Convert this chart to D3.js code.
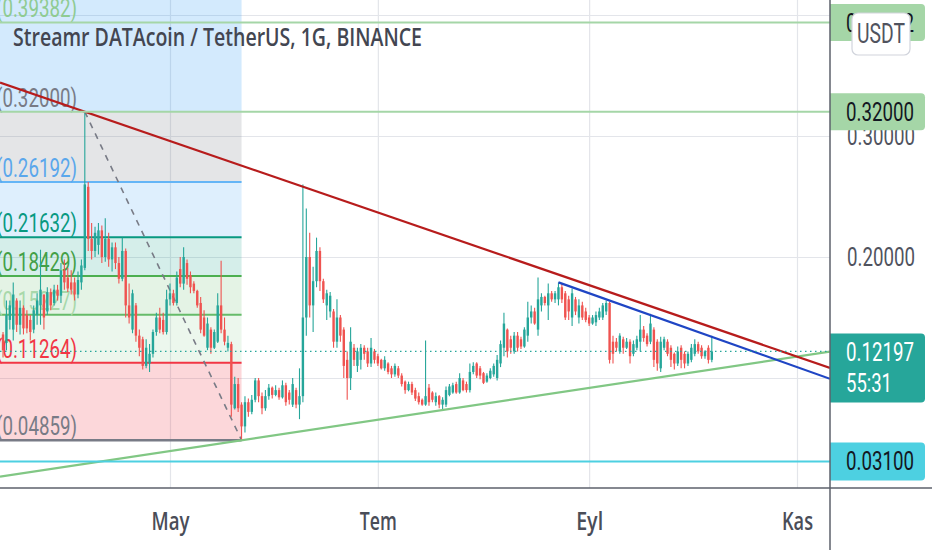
<!DOCTYPE html>
<html>
<head>
<meta charset="utf-8">
<script src="https://cdn.jsdelivr.net/npm/d3@7"></script>
<style>
  body { margin: 0; background: #fff; overflow: hidden; }
  svg { display: block; }
</style>
</head>
<body>
<div id="chart"></div>
<script>
// daily candles, first one on 2021-03-13 : [open, high, low, close]
const firstDay = '2021-03-13';
const ohlc = [
  [.136,.138,.117,.123],[.129,.164,.123,.152],[.148,.164,.140,.160],[.140,.179,.131,.169],
  [.164,.166,.138,.144],[.144,.164,.136,.158],[.158,.160,.136,.141],[.152,.156,.137,.141],
  [.148,.152,.131,.138],[.140,.160,.137,.156],[.152,.170,.144,.164],[.160,.206,.144,.173],
  [.169,.169,.140,.150],[.155,.175,.152,.171],[.171,.174,.156,.160],[.162,.177,.160,.173],
  [.173,.177,.164,.168],[.168,.195,.162,.189],[.189,.198,.173,.179],[.183,.191,.171,.174],
  [.179,.189,.169,.173],[.179,.183,.164,.169],[.169,.188,.166,.181],[.179,.198,.173,.193],
  [.191,.320,.189,.260],[.258,.262,.205,.215],[.215,.228,.198,.205],[.205,.225,.200,.220],
  [.210,.228,.202,.222],[.222,.226,.195,.200],[.200,.232,.196,.215],[.215,.220,.192,.198],
  [.198,.212,.188,.208],[.208,.212,.190,.195],[.195,.200,.178,.182],[.182,.216,.180,.205],
  [.205,.207,.150,.160],[.160,.178,.145,.150],[.140,.173,.137,.170],[.160,.162,.130,.135],
  [.135,.140,.118,.125],[.132,.134,.107,.110],[.110,.132,.108,.125],[.112,.128,.105,.120],
  [.120,.140,.117,.138],[.138,.154,.135,.150],[.150,.158,.137,.140],[.148,.154,.136,.138],
  [.138,.173,.136,.165],[.165,.178,.160,.170],[.170,.173,.160,.162],[.162,.188,.160,.183],
  [.190,.200,.175,.178],[.178,.208,.173,.200],[.195,.198,.177,.182],[.185,.188,.170,.175],
  [.178,.180,.170,.172],[.172,.173,.158,.160],[.162,.167,.137,.140],[.150,.156,.134,.135],
  [.125,.150,.123,.145],[.140,.142,.120,.125],[.125,.140,.124,.138],[.130,.170,.129,.160],
  [.160,.197,.137,.140],[.140,.150,.127,.130],[.125,.135,.122,.129],[.128,.130,.068,.078],
  [.075,.101,.074,.095],[.095,.100,.072,.075],[.078,.080,.0486,.060],[.060,.085,.055,.080],
  [.080,.083,.068,.072],[.072,.086,.070,.082],[.082,.100,.080,.098],[.098,.100,.080,.085],
  [.085,.088,.070,.075],[.075,.090,.073,.085],[.085,.095,.082,.092],[.092,.093,.083,.086],
  [.086,.094,.085,.090],[.090,.092,.082,.084],[.084,.098,.083,.094],[.094,.096,.077,.080],
  [.088,.090,.078,.082],[.078,.100,.076,.095],[.090,.092,.075,.078],[.078,.108,.066,.085],
  [.085,.260,.080,.150],[.150,.240,.135,.200],[.200,.220,.150,.160],[.160,.192,.138,.180],
  [.180,.216,.175,.205],[.205,.208,.172,.180],[.180,.182,.162,.165],[.160,.173,.148,.170],
  [.155,.171,.150,.168],[.155,.157,.125,.130],[.130,.165,.125,.150],[.150,.152,.130,.135],
  [.140,.142,.100,.110],[.115,.122,.082,.100],[.100,.142,.090,.130],[.125,.128,.110,.115],
  [.110,.125,.105,.122],[.115,.128,.107,.125],[.125,.127,.115,.120],[.122,.125,.109,.112],
  [.112,.133,.109,.125],[.122,.124,.112,.115],[.118,.120,.110,.112],[.115,.116,.107,.108],
  [.108,.118,.106,.115],[.112,.113,.103,.105],[.108,.110,.100,.103],[.103,.112,.101,.110],
  [.108,.110,.100,.102],[.102,.104,.093,.095],[.097,.098,.087,.090],[.090,.097,.089,.095],
  [.095,.097,.086,.088],[.090,.092,.081,.083],[.085,.088,.078,.080],[.082,.083,.077,.078],
  [.078,.131,.077,.085],[.092,.095,.077,.080],[.088,.089,.080,.082],[.080,.088,.077,.085],
  [.085,.086,.075,.078],[.078,.084,.074,.082],[.078,.093,.076,.090],[.086,.095,.085,.093],
  [.088,.096,.087,.094],[.095,.097,.087,.088],[.088,.104,.087,.100],[.098,.100,.089,.090],
  [.095,.097,.088,.090],[.090,.112,.088,.105],[.105,.113,.103,.110],[.112,.113,.100,.102],
  [.108,.110,.099,.102],[.104,.105,.095,.096],[.097,.104,.096,.102],[.100,.108,.099,.106],
  [.103,.112,.101,.110],[.100,.119,.098,.115],[.112,.131,.109,.128],[.125,.154,.118,.145],
  [.140,.141,.117,.122],[.132,.135,.120,.125],[.122,.138,.120,.135],[.135,.138,.122,.125],
  [.132,.134,.124,.126],[.126,.142,.125,.140],[.135,.163,.130,.150],[.150,.160,.145,.155],
  [.155,.158,.144,.145],[.140,.183,.135,.165],[.160,.170,.155,.167],[.167,.168,.160,.162],
  [.160,.178,.148,.170],[.170,.172,.163,.165],[.165,.172,.162,.170],[.165,.179,.160,.175],
  [.175,.178,.162,.165],[.170,.172,.148,.150],[.165,.168,.148,.155],[.150,.174,.143,.170],
  [.165,.167,.152,.155],[.150,.165,.145,.160],[.160,.163,.148,.150],[.155,.158,.146,.148],
  [.150,.152,.143,.145],[.145,.152,.144,.150],[.146,.155,.143,.152],[.150,.158,.148,.155],
  [.150,.162,.148,.160],[.155,.164,.152,.162],[.162,.163,.112,.115],[.130,.135,.112,.120],
  [.130,.133,.122,.125],[.122,.137,.120,.135],[.132,.134,.120,.125],[.125,.133,.124,.130],
  [.130,.132,.112,.118],[.120,.131,.118,.128],[.125,.135,.123,.132],[.130,.152,.122,.140],
  [.140,.143,.130,.133],[.135,.137,.126,.128],[.130,.153,.128,.145],[.140,.142,.109,.115],
  [.130,.132,.106,.112],[.108,.134,.105,.130],[.125,.134,.123,.132],[.130,.132,.118,.120],
  [.125,.127,.109,.115],[.120,.121,.107,.112],[.112,.126,.110,.122],[.125,.127,.108,.115],
  [.120,.122,.108,.112],[.112,.122,.110,.120],[.115,.128,.113,.125],[.120,.132,.118,.128],
  [.128,.130,.120,.122],[.125,.127,.116,.118],[.118,.123,.116,.122],[.125,.127,.112,.115],
  [.115,.135,.113,.122]
];

// fib retracement drawn from the April high to the May low
const fibPrices = [0.39382, 0.32000, 0.26192, 0.21632, 0.18429, 0.15227, 0.11264, 0.04859];
const fibFrom = '2021-02-20';
const fibTo = '2021-05-22';
const fibDiagonal = [['2021-04-06', 0.32000], ['2021-05-22', 0.04859]];

// trend lines [date, price]
const resistanceLine = [['2021-04-06', 0.3200], ['2021-11-10', 0.109]];
const supportLine = [['2021-05-22', 0.04859], ['2021-11-10', 0.1215]];
const innerLine = [['2021-08-23', 0.179], ['2021-11-10', 0.100]];

// horizontal levels on the price scale
const fullLevels = [0.39382, 0.32000];
const supportLevel = 0.03100;
const lastPrice = 0.12197;
const countdown = '55:31';

const priceTicks = [0.1, 0.2, 0.3, 0.4];
const priceTickLabels = [0.2, 0.3];   // the others sit under the price boxes
const monthTicks = ['2021-05-01', '2021-07-01', '2021-09-01', '2021-11-01'];
const monthLabels = ['May', 'Tem', 'Eyl', 'Kas'];
const title = 'Streamr DATAcoin / TetherUS, 1G, BINANCE';

// ---- styles
const up = '#26a69a', down = '#ef5350';
const fibLineColors = ['#a5d6a7', '#a5d6a7', '#64b5f6', '#089981', '#4caf50', '#66bb6a', '#f23645', '#787b86'];
const fibTextColors = ['#8fcb92', '#787b86', '#5aa7ec', '#089981', '#43a047', '#a8d8aa', '#f23645', '#787b86'];
const fibFills = [['#2196f3', .2], ['#787b86', .2], ['#2196f3', .15], ['#089981', .17],
                  ['#4caf50', .15], ['#81c784', .15], ['#f23645', .2]];

const W = 932, H = 550, axisX = 830, axisY = 488;
const parse = d3.utcParse('%Y-%m-%d');
const fmt = d3.format('.5f');

const svg = d3.select('#chart').append('svg')
    .attr('width', W)
    .attr('height', H)
    .attr('viewBox', `0 0 ${W} ${H}`);

const x = d3.scaleUtc()
    .domain([parse('2021-05-01'), parse('2021-11-01')])
    .range([170, 797]);

const y = d3.scaleLinear()
    .domain([0, 0.4])
    .range([499, 15]);

const days = d3.utcDay.range(parse(firstDay), d3.utcDay.offset(parse(firstDay), ohlc.length));

svg.append('rect').attr('width', W).attr('height', H).attr('fill', '#fff');

svg.append('defs').append('clipPath').attr('id', 'plot')
    .append('rect').attr('width', axisX).attr('height', axisY);

const plot = svg.append('g').attr('clip-path', 'url(#plot)');

// grid
plot.append('g')
    .call(d3.axisBottom(x).tickValues(monthTicks.map(parse)).tickSize(axisY).tickFormat(''))
    .call(g => g.select('.domain').remove())
    .call(g => g.selectAll('line').attr('stroke', '#e3e5ea').attr('stroke-width', 1.2));
plot.append('g')
    .call(d3.axisRight(y).tickValues(priceTicks).tickSize(axisX).tickFormat(''))
    .call(g => g.select('.domain').remove())
    .call(g => g.selectAll('line').attr('stroke', '#e3e5ea').attr('stroke-width', 1.2));

// fib backgrounds
const fx0 = x(parse(fibFrom)), fx1 = x(parse(fibTo));
fibFills.forEach((f, k) => {
    const top = k === 0 ? 0 : y(fibPrices[k]);
    plot.append('rect')
        .attr('x', fx0).attr('y', top)
        .attr('width', fx1 - fx0).attr('height', y(fibPrices[k + 1]) - top)
        .attr('fill', f[0]).attr('fill-opacity', f[1]);
});
fibPrices.forEach((p, k) => {
    if (fullLevels.includes(p)) return;
    plot.append('line')
        .attr('x1', fx0).attr('x2', fx1)
        .attr('y1', y(p)).attr('y2', y(p))
        .attr('stroke', fibLineColors[k]).attr('stroke-width', k === 7 ? 2.5 : 2);
});

// fib labels
fibPrices.forEach((p, k) => {
    plot.append('text')
        .attr('x', 77).attr('y', y(p) - 5)
        .attr('text-anchor', 'end')
        .attr('font-family', 'Roboto, sans-serif')
        .attr('font-size', 26)
        .attr('fill', fibTextColors[k])
        .attr('textLength', 81).attr('lengthAdjust', 'spacingAndGlyphs')
        .text('(' + fmt(p) + ')');
});

plot.append('line')
    .attr('x1', x(parse(fibDiagonal[0][0]))).attr('y1', y(fibDiagonal[0][1]))
    .attr('x2', x(parse(fibDiagonal[1][0]))).attr('y2', y(fibDiagonal[1][1]))
    .attr('stroke', '#787b86').attr('stroke-width', 1.6).attr('stroke-dasharray', '6,6');

// candles
const candle = plot.append('g').selectAll('g')
    .data(ohlc)
    .enter().append('g');
candle.append('line')
    .attr('x1', (d, i) => x(days[i])).attr('x2', (d, i) => x(days[i]))
    .attr('y1', d => y(d[1])).attr('y2', d => y(d[2]))
    .attr('stroke', d => d[3] >= d[0] ? up : down)
    .attr('stroke-width', 1.1);
candle.append('rect')
    .attr('x', (d, i) => x(days[i]) - 1.2)
    .attr('width', 2.4)
    .attr('y', d => y(Math.max(d[0], d[3])))
    .attr('height', d => Math.max(1, Math.abs(y(d[0]) - y(d[3]))))
    .attr('fill', d => d[3] >= d[0] ? up : down);

// trend lines, extended to the price scale
function trend(pts, color, extendLeft) {
    const x1 = x(parse(pts[0][0])), y1 = y(pts[0][1]);
    const x2 = x(parse(pts[1][0])), y2 = y(pts[1][1]);
    const k = (y2 - y1) / (x2 - x1);
    const xs = extendLeft ? 0 : x1;
    plot.append('line')
        .attr('x1', xs).attr('y1', y1 + k * (xs - x1))
        .attr('x2', axisX).attr('y2', y1 + k * (axisX - x1))
        .attr('stroke', color).attr('stroke-width', 2.2);
}
trend(supportLine, '#81c784', true);
trend(resistanceLine, '#b71c1c', true);
trend(innerLine, '#1f45c4', false);

// horizontal levels
plot.append('line')
    .attr('x1', 0).attr('x2', axisX).attr('y1', y(lastPrice)).attr('y2', y(lastPrice))
    .attr('stroke', up).attr('stroke-width', 1.2).attr('stroke-dasharray', '1.5,3.5');
plot.append('line')
    .attr('x1', 0).attr('x2', axisX).attr('y1', y(supportLevel)).attr('y2', y(supportLevel))
    .attr('stroke', '#4dd0e1').attr('stroke-width', 2);
fullLevels.forEach(p => {
    plot.append('line')
        .attr('x1', 0).attr('x2', axisX).attr('y1', y(p)).attr('y2', y(p))
        .attr('stroke', '#a5d6a7').attr('stroke-width', 2);
});

// title
svg.append('text')
    .attr('x', 13).attr('y', 46)
    .attr('font-family', '"Open Sans", sans-serif')
    .attr('font-weight', 600)
    .attr('font-size', 26)
    .attr('fill', '#434651')
    .attr('textLength', 409).attr('lengthAdjust', 'spacingAndGlyphs')
    .text(title);

// price scale
svg.append('rect').attr('x', axisX).attr('width', W - axisX).attr('height', H).attr('fill', '#fff');
svg.append('g')
    .attr('transform', `translate(${axisX},0)`)
    .call(d3.axisRight(y).tickValues(priceTickLabels).tickSize(0).tickPadding(17).tickFormat(fmt))
    .call(g => g.select('.domain').remove())
    .call(g => g.selectAll('text')
        .attr('font-family', 'Roboto, sans-serif')
        .attr('font-size', 25)
        .attr('fill', '#50535e')
        .attr('textLength', 68).attr('lengthAdjust', 'spacingAndGlyphs'));

function priceBox(p, h, fill, color, lines) {
    const cy = y(p), top = cy - h / 2, r = 4, w = 95;
    svg.append('path')
        .attr('d', `M${axisX},${top}h${w - r}a${r},${r} 0 0 1 ${r},${r}v${h - 2 * r}a${r},${r} 0 0 1 -${r},${r}h-${w - r}z`)
        .attr('fill', fill);
    lines.forEach((s, i) => {
        svg.append('text')
            .attr('x', 846).attr('y', top + 28 + i * 31)
            .attr('font-family', 'Roboto, sans-serif')
            .attr('font-size', 25)
            .attr('fill', color)
            .attr('textLength', s.length > 5 ? 68 : 46).attr('lengthAdjust', 'spacingAndGlyphs')
            .text(s);
    });
}
priceBox(fullLevels[0], 37, '#a5d6a7', '#131722', [fmt(fullLevels[0])]);
priceBox(fullLevels[1], 37, '#a5d6a7', '#131722', [fmt(fullLevels[1])]);
priceBox(supportLevel, 38, '#4dd0e1', '#131722', [fmt(supportLevel)]);
const lp = y(lastPrice);
svg.append('path')
    .attr('d', `M${axisX},${lp - 18}h91a4,4 0 0 1 4,4v61a4,4 0 0 1 -4,4h-91z`)
    .attr('fill', up);
svg.append('text').attr('x', 846).attr('y', lp + 10)
    .attr('font-family', 'Roboto, sans-serif').attr('font-size', 25).attr('fill', '#fff')
    .attr('textLength', 68).attr('lengthAdjust', 'spacingAndGlyphs').text(fmt(lastPrice));
svg.append('text').attr('x', 846).attr('y', lp + 41)
    .attr('font-family', 'Roboto, sans-serif').attr('font-size', 25).attr('fill', '#fff')
    .attr('textLength', 46).attr('lengthAdjust', 'spacingAndGlyphs').text(countdown);

// currency button
svg.append('rect')
    .attr('x', 852).attr('y', 13).attr('width', 58).attr('height', 42).attr('rx', 6)
    .attr('fill', '#fff').attr('stroke', '#d1d4dc').attr('stroke-width', 1.2);
svg.append('text')
    .attr('x', 881).attr('y', 43).attr('text-anchor', 'middle')
    .attr('font-family', 'Roboto, sans-serif').attr('font-size', 27).attr('fill', '#50535e')
    .attr('textLength', 48).attr('lengthAdjust', 'spacingAndGlyphs')
    .text('USDT');

// time scale
svg.append('rect').attr('y', axisY).attr('width', axisX).attr('height', H - axisY).attr('fill', '#fff');
const labelWidth = { May: 38, Tem: 37, Eyl: 27, Kas: 31 };
svg.append('g')
    .attr('transform', `translate(0,${axisY})`)
    .call(d3.axisBottom(x).tickValues(monthTicks.map(parse)).tickSize(0)
        .tickFormat((d, i) => monthLabels[i]))
    .call(g => g.select('.domain').remove())
    .call(g => g.selectAll('text')
        .attr('y', 42).attr('dy', 0)
        .attr('font-family', '"Open Sans", sans-serif')
        .attr('font-weight', 600)
        .attr('font-size', 26)
        .attr('fill', '#4a4d58')
        .attr('textLength', function() { return labelWidth[this.textContent]; })
        .attr('lengthAdjust', 'spacingAndGlyphs'));

svg.append('line').attr('x1', 0).attr('x2', W).attr('y1', axisY).attr('y2', axisY)
    .attr('stroke', '#5d606b').attr('stroke-width', 1.5);
svg.append('line').attr('x1', axisX).attr('x2', axisX).attr('y1', 0).attr('y2', H)
    .attr('stroke', '#5d606b').attr('stroke-width', 1.5);
</script>
</body>
</html>
